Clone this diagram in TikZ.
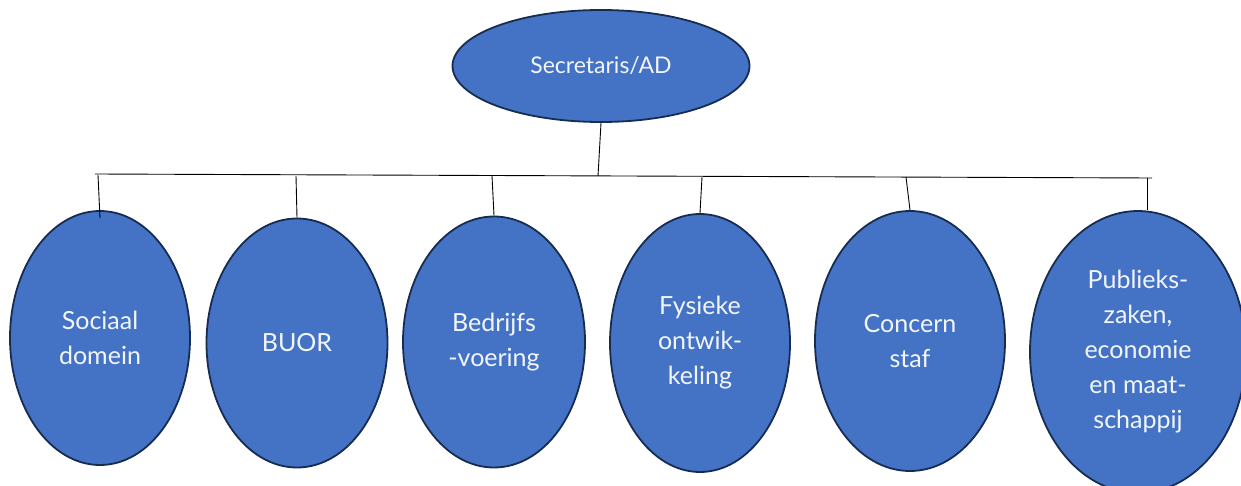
\documentclass[tikz,border=0pt]{standalone}
\usepackage{fontspec}
\setmainfont{Lato}
\usetikzlibrary{shapes.geometric}
\definecolor{ofblue}{HTML}{4472C4}
\definecolor{ofline}{HTML}{172C51}
\definecolor{txt}{HTML}{F2F6FC}
\begin{document}
\begin{tikzpicture}[x=1pt,y=-1pt,
  unit/.style={ellipse, draw=ofline, line width=1.8pt, fill=ofblue, text=txt,
    inner sep=0pt, align=center, font=\fontsize{25}{35}\selectfont},
  link/.style={draw=black, line width=0.9pt}]
\useasboundingbox (0,0) rectangle (1241,486);
\node[unit, minimum width=297pt, minimum height=112pt, font=\fontsize{23}{35}\selectfont] (top) at (601,66) {Secretaris/AD};
\node[unit, minimum width=180pt, minimum height=254pt] (s1) at (100,338) {Sociaal\\domein};
\node[unit, minimum width=181pt, minimum height=249pt] (s2) at (297,343) {BUOR};
\node[unit, minimum width=182pt, minimum height=251pt] (s3) at (494,342) {Bedrijfs\\-voering};
\node[unit, minimum width=180pt, minimum height=258pt] (s4) at (700,343) {Fysieke\\ontwik-\\keling};
\node[unit, minimum width=190pt, minimum height=260pt] (s5) at (910,341) {Concern\\staf};
\node[unit, minimum width=216pt, minimum height=282pt] (s6) at (1138,352) {Publieks-\\zaken,\\economie\\en maat-\\schappij};
\coordinate (bl) at (95,174);
\coordinate (br) at (1152,178);
\coordinate (bt) at (598,176);
\coordinate (c1) at (98,175);
\coordinate (c2) at (296,176);
\coordinate (c3) at (492,176);
\coordinate (c4) at (702,177);
\coordinate (c5) at (906,177);
\coordinate (c6) at (1147,178);
\draw[link] (bl) -- (br);
\draw[link] (top.south) -- (bt);
\draw[link] (c1) -- ([yshift=-8pt]s1.north);
\draw[link] (c2) -- (s2.north);
\draw[link] (c3) -- (s3.north);
\draw[link] (c4) -- (s4.north);
\draw[link] (c5) -- (s5.north);
\draw[link] (c6) -- (c6 |- s6.north);
\end{tikzpicture}
\end{document}
